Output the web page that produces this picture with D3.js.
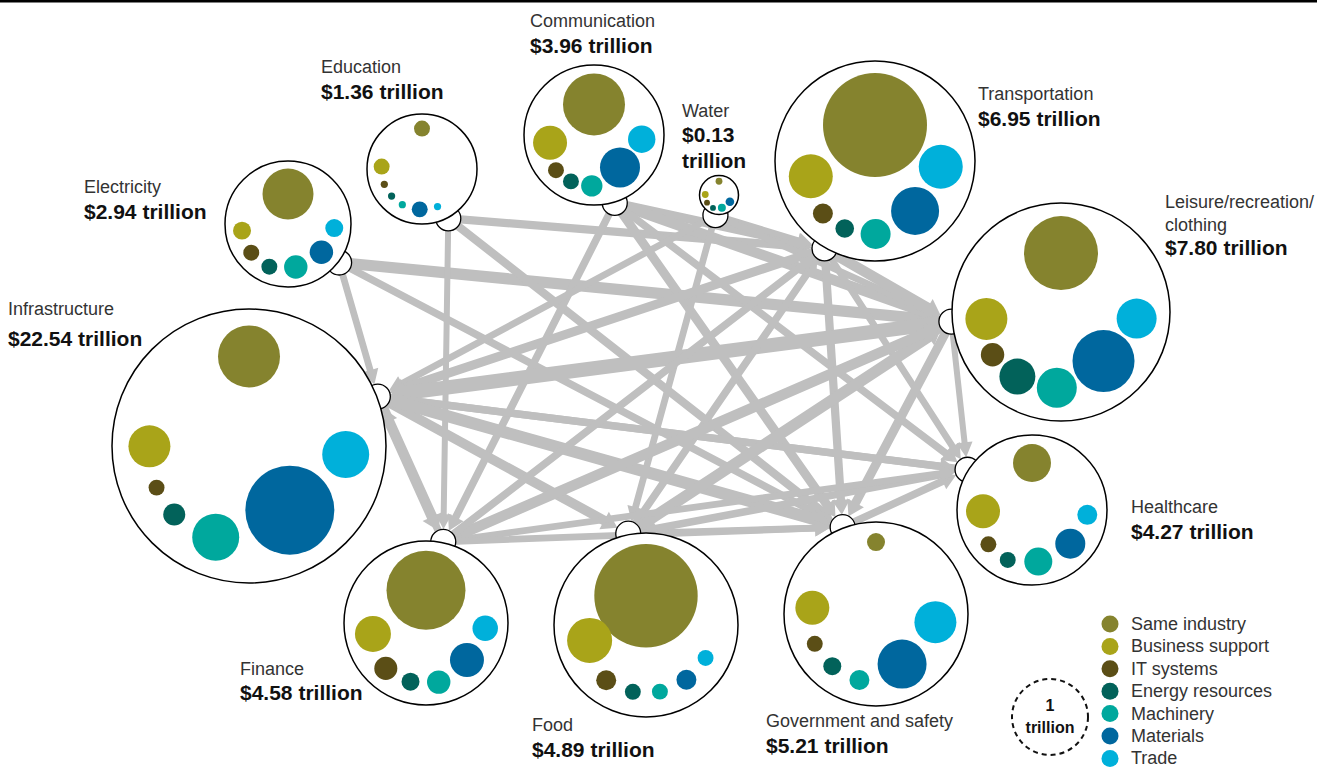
<!DOCTYPE html>
<html>
<head>
<meta charset="utf-8">
<script src="https://cdnjs.cloudflare.com/ajax/libs/d3/7.8.5/d3.min.js"></script>
<style>
  body { margin: 0; background: #fff; }
  svg text { font-family: "Liberation Sans", Arial, sans-serif; }
  .name { font-size: 18px; fill: #333; }
  .amount { font-size: 21px; font-weight: bold; fill: #111; }
  .legendText { font-size: 18px; fill: #333; }
</style>
</head>
<body>
<div id="chart"></div>
<script>
// ---- data ----
var industries = ["Infrastructure", "Education", "Electricity", "Communication", "Water",
    "Transportation", "Leisure", "Healthcare", "Government", "Food", "Finance"];
var categories = ["Same industry", "Business support", "IT systems", "Energy resources", "Machinery", "Materials", "Trade"];
var colors = ["#85832e", "#a9a419", "#5b4e16", "#02625a", "#00a89d", "#00679e", "#00b0da"];

// value by category, trillions (same order as categories)
var subValues = {
    "Infrastructure": [0.666, 0.305, 0.044, 0.084, 0.382, 1.371, 0.382],
    "Education":      [0.044, 0.044, 0.009, 0.009, 0.009, 0.044, 0.009],
    "Electricity":    [0.450, 0.056, 0.044, 0.044, 0.095, 0.095, 0.056],
    "Communication":  [0.666, 0.200, 0.044, 0.044, 0.079, 0.277, 0.130],
    "Water":          [0.008, 0.008, 0.006, 0.006, 0.011, 0.013, 0.000],
    "Transportation": [1.873, 0.335, 0.069, 0.060, 0.156, 0.399, 0.335],
    "Leisure":        [0.948, 0.305, 0.095, 0.224, 0.277, 0.666, 0.277],
    "Healthcare":     [0.250, 0.200, 0.044, 0.044, 0.136, 0.156, 0.069],
    "Government":     [0.056, 0.200, 0.044, 0.056, 0.069, 0.416, 0.305],
    "Food":           [1.851, 0.351, 0.069, 0.044, 0.044, 0.069, 0.044],
    "Finance":        [1.080, 0.224, 0.092, 0.056, 0.095, 0.200, 0.112]
};

// flows between industries: source, target, trillions
var links = [
    ["Electricity", "Infrastructure", 0.45],
    ["Electricity", "Leisure", 0.75],
    ["Electricity", "Government", 0.5],
    ["Education", "Finance", 0.4],
    ["Education", "Transportation", 0.55],
    ["Education", "Government", 0.55],
    ["Communication", "Finance", 0.5],
    ["Communication", "Transportation", 0.6],
    ["Communication", "Leisure", 0.7],
    ["Communication", "Government", 0.6],
    ["Communication", "Healthcare", 0.5],
    ["Water", "Food", 0.45],
    ["Water", "Transportation", 0.4],
    ["Water", "Leisure", 0.45],
    ["Water", "Infrastructure", 0.45],
    ["Transportation", "Infrastructure", 0.6],
    ["Transportation", "Leisure", 0.7],
    ["Transportation", "Government", 0.55],
    ["Transportation", "Healthcare", 0.45],
    ["Leisure", "Infrastructure", 0.95],
    ["Leisure", "Government", 0.6],
    ["Leisure", "Food", 0.5],
    ["Leisure", "Healthcare", 0.4],
    ["Healthcare", "Infrastructure", 0.5],
    ["Government", "Infrastructure", 0.7],
    ["Government", "Healthcare", 0.5],
    ["Infrastructure", "Finance", 0.7],
    ["Infrastructure", "Food", 0.65],
    ["Infrastructure", "Healthcare", 0.5],
    ["Infrastructure", "Government", 0.8],
    ["Food", "Leisure", 0.75],
    ["Food", "Transportation", 0.5],
    ["Food", "Healthcare", 0.5],
    ["Food", "Government", 0.45],
    ["Finance", "Leisure", 0.7],
    ["Finance", "Transportation", 0.5],
    ["Finance", "Healthcare", 0.45],
    ["Finance", "Infrastructure", 0.5],
    ["Finance", "Government", 0.45]
];

// ---- layout (where each industry bubble sits) ----
var layout = {
    "Infrastructure": {x: 249, y: 446, r: 137, anchor: -21, lx: 8, ly: 315, name: ["Infrastructure"], amt: ["$22.54 trillion"], gap: 31},
    "Education":      {x: 422, y: 169, r: 55, anchor: 62, lx: 321, ly: 73, name: ["Education"], amt: ["$1.36 trillion"], gap: 26},
    "Electricity":    {x: 288, y: 224, r: 63, anchor: 37, lx: 84, ly: 193, name: ["Electricity"], amt: ["$2.94 trillion"], gap: 26},
    "Communication":  {x: 594, y: 135, r: 70, anchor: 73, lx: 530, ly: 27, name: ["Communication"], amt: ["$3.96 trillion"], gap: 26},
    "Water":          {x: 719, y: 195, r: 19.5, anchor: 100, lx: 682, ly: 117, name: ["Water"], amt: ["$0.13", "trillion"], gap: 25},
    "Transportation": {x: 875, y: 161, r: 100, anchor: 120, lx: 978, ly: 100, name: ["Transportation"], amt: ["$6.95 trillion"], gap: 26},
    "Leisure":        {x: 1061, y: 312, r: 109, anchor: 175, lx: 1165, ly: 208, name: ["Leisure/recreation/", "clothing"], amt: ["$7.80 trillion"], gap: 24},
    "Healthcare":     {x: 1032, y: 510, r: 75, anchor: 212, lx: 1131, ly: 513, name: ["Healthcare"], amt: ["$4.27 trillion"], gap: 26},
    "Government":     {x: 876, y: 614, r: 92, anchor: 249, lx: 766, ly: 727, name: ["Government and safety"], amt: ["$5.21 trillion"], gap: 26},
    "Food":           {x: 646, y: 625, r: 92, anchor: 259, lx: 532, ly: 731, name: ["Food"], amt: ["$4.89 trillion"], gap: 26},
    "Finance":        {x: 426, y: 623, r: 82, anchor: 282, lx: 240, ly: 675, name: ["Finance"], amt: ["$4.58 trillion"], gap: 25}
};

var width = 1317, height = 767;
var anchorR = 12.5;

var svg = d3.select("#chart")
    .append("svg")
    .attr("width", width)
    .attr("height", height);

var rScale = d3.scaleSqrt().domain([0, 1]).range([0, 38]);
var wScale = d3.scaleLinear().domain([0, 1]).range([0, 15]);
var colorScale = d3.scaleOrdinal().domain(categories).range(colors);

function anchorPos(name) {
    var n = layout[name];
    var a = n.anchor * Math.PI / 180;
    return [n.x + (n.r + 1) * Math.cos(a), n.y + (n.r + 1) * Math.sin(a)];
}

// top rule
svg.append("rect")
    .attr("x", 0).attr("y", 0)
    .attr("width", width).attr("height", 2.5)
    .attr("fill", "#000");

// arrows
var line = d3.line();
var arrows = links.map(function(l) {
    var s = anchorPos(l[0]), t = anchorPos(l[1]);
    var dx = t[0] - s[0], dy = t[1] - s[1];
    var len = Math.sqrt(dx * dx + dy * dy);
    var ux = dx / len, uy = dy / len, nx = -uy, ny = ux;
    var w = wScale(l[2]);
    var hw = w + 10, hl = 15;
    var tip = [t[0] - ux * anchorR, t[1] - uy * anchorR];
    var b = [tip[0] - ux * hl, tip[1] - uy * hl];
    return {w: w, pts: [
        [s[0] + nx * w / 2, s[1] + ny * w / 2],
        [b[0] + nx * w / 2, b[1] + ny * w / 2],
        [b[0] + nx * hw / 2, b[1] + ny * hw / 2],
        tip,
        [b[0] - nx * hw / 2, b[1] - ny * hw / 2],
        [b[0] - nx * w / 2, b[1] - ny * w / 2],
        [s[0] - nx * w / 2, s[1] - ny * w / 2]
    ]};
});

svg.append("g")
    .selectAll("path")
    .data(arrows)
    .enter()
    .append("path")
        .attr("d", function(d) { return line(d.pts) + "Z"; })
        .attr("fill", "#bfbfbf");

// anchors
svg.append("g")
    .selectAll("circle")
    .data(industries)
    .enter()
    .append("circle")
        .attr("cx", function(d) { return anchorPos(d)[0]; })
        .attr("cy", function(d) { return anchorPos(d)[1]; })
        .attr("r", anchorR)
        .attr("fill", "#fff")
        .attr("stroke", "#000")
        .attr("stroke-width", 1.3);

// place category bubbles on a ring inside each industry bubble
function ringLayout(name) {
    var n = layout[name];
    var R = n.r;
    var rs = subValues[name].map(function(v) { return rScale(v); });
    var d = rs.map(function(r) { return Math.min(0.88 * R - r, 0.74 * R); });
    d[0] = 0.88 * R - rs[0];
    var a0 = (190 - 45 * rs[0] / R) * Math.PI / 180;
    var a1 = 5 * Math.PI / 180;
    var need = [];
    for (var i = 1; i < 6; i++) need.push((rs[i] + rs[i + 1]) / ((d[i] + d[i + 1]) / 2));
    var gapEq = (a0 - a1 - d3.sum(need)) / 5;
    var gapFix = 0.12 * R / d3.mean(d.slice(1));
    var gap = Math.min(gapEq, gapFix);
    var out = [{a: -Math.PI / 2, d: d[0], r: rs[0], c: categories[0]}];
    var a = a0;
    out.push({a: a, d: d[1], r: rs[1], c: categories[1]});
    for (var j = 2; j < 7; j++) {
        a -= need[j - 2] + gap;
        out.push({a: a, d: d[j], r: rs[j], c: categories[j]});
    }
    return out.map(function(p) {
        return {x: n.x + p.d * Math.cos(p.a), y: n.y + p.d * Math.sin(p.a), r: p.r, c: p.c};
    });
}

var nodes = svg.append("g")
    .selectAll("g")
    .data(industries)
    .enter()
    .append("g");

nodes.append("circle")
    .attr("cx", function(d) { return layout[d].x; })
    .attr("cy", function(d) { return layout[d].y; })
    .attr("r", function(d) { return layout[d].r; })
    .attr("fill", "#fff")
    .attr("stroke", "#000")
    .attr("stroke-width", 1.5);

nodes.selectAll(".sub")
    .data(function(d) { return ringLayout(d); })
    .enter()
    .append("circle")
        .attr("class", "sub")
        .attr("cx", function(d) { return d.x; })
        .attr("cy", function(d) { return d.y; })
        .attr("r", function(d) { return d.r; })
        .attr("fill", function(d) { return colorScale(d.c); });

// labels
industries.forEach(function(name) {
    var n = layout[name];
    var y = n.ly;
    n.name.forEach(function(t, i) {
        svg.append("text").attr("class", "name")
            .attr("x", n.lx).attr("y", y + i * 23).text(t);
    });
    y += (n.name.length - 1) * 23 + n.gap;
    n.amt.forEach(function(t, i) {
        svg.append("text").attr("class", "amount")
            .attr("x", n.lx).attr("y", y + i * 26).text(t);
    });
});

// legend
var legend = svg.append("g")
    .selectAll("g")
    .data(categories)
    .enter()
    .append("g")
        .attr("transform", function(d, i) { return "translate(1110," + (624 + i * 22.4) + ")"; });

legend.append("circle")
    .attr("r", 8.5)
    .attr("fill", function(d) { return colorScale(d); });

legend.append("text")
    .attr("class", "legendText")
    .attr("x", 21)
    .attr("y", 6)
    .text(function(d) { return d; });

// size key
svg.append("circle")
    .attr("cx", 1050).attr("cy", 717)
    .attr("r", rScale(1))
    .attr("fill", "none")
    .attr("stroke", "#111")
    .attr("stroke-width", 2)
    .attr("stroke-dasharray", "5,4");

svg.append("text")
    .attr("x", 1050).attr("y", 711)
    .attr("text-anchor", "middle")
    .style("font-size", "16px").style("font-weight", "bold").attr("fill", "#111")
    .text("1");

svg.append("text")
    .attr("x", 1050).attr("y", 733)
    .attr("text-anchor", "middle")
    .style("font-size", "16px").style("font-weight", "bold").attr("fill", "#111")
    .text("trillion");
</script>
</body>
</html>
